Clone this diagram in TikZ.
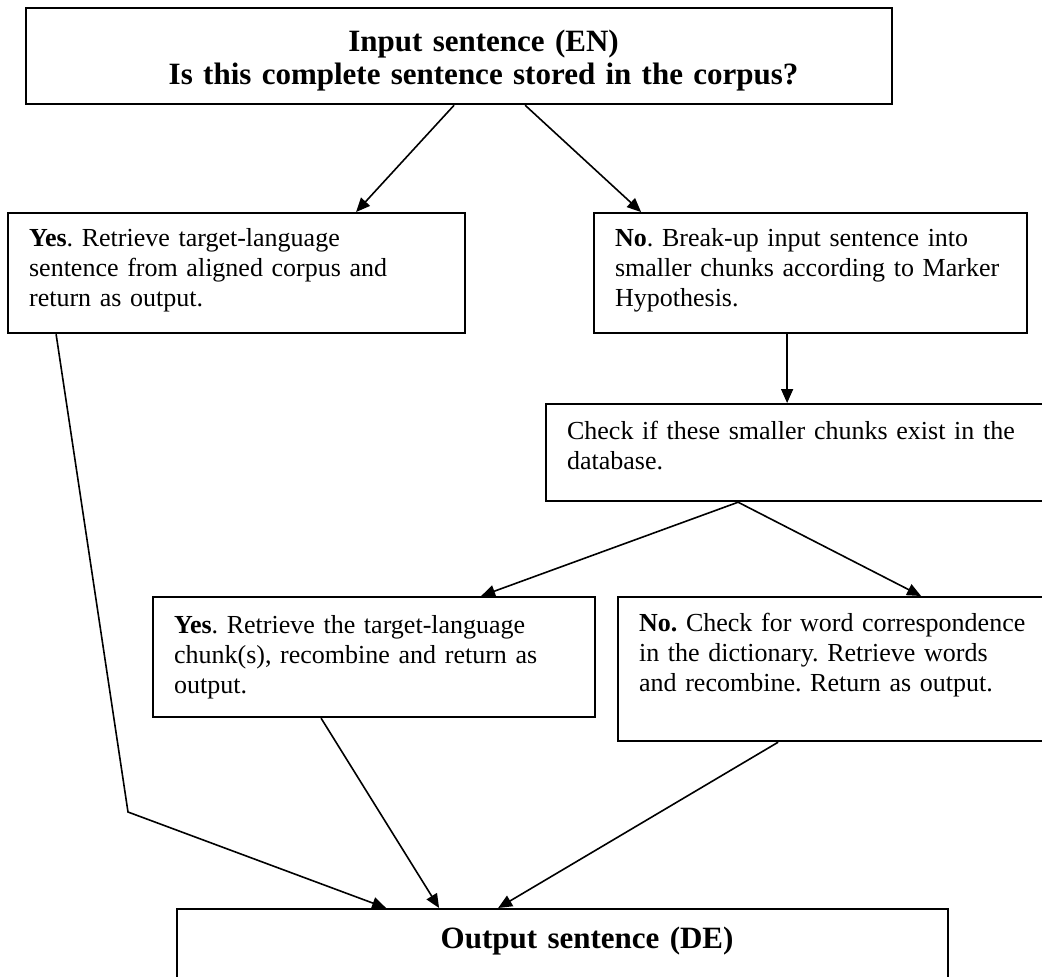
\documentclass[tikz,border=0pt]{standalone}
\usepackage{fontspec}
\setmainfont{Liberation Serif}
\usetikzlibrary{arrows.meta, positioning, calc}
\frenchspacing

\begin{document}
\begin{tikzpicture}[
    x=0.5pt, y=-0.5pt,
    box/.style={rectangle, draw, line width=1.1pt, anchor=north west, align=left, inner xsep=10.5pt, inner ysep=0pt, font=\fontsize{13}{15}\selectfont},
    headbox/.style={box, align=center, inner xsep=5pt, font=\fontsize{15.5}{16.5}\selectfont\bfseries},
    arrow/.style={-{Triangle[length=7pt, width=6pt]}, line width=0.8pt}
]
\path[use as bounding box, clip] (0,0) rectangle (1042,976);

% Question and first answers
\node[headbox, text width=423pt, text height=21.5pt, text depth=26.5pt] (input) at (25,7)
    {\hspace*{24.5pt}Input sentence (EN)\\ \hspace*{24.5pt}Is this complete sentence stored in the corpus?};
\node[box, text width=207.5pt, text height=16.5pt, text depth=43.5pt] (yes1) at (7,212)
    {\textbf{Yes}. Retrieve target-language\\ sentence from aligned corpus and\\ return as output.};
\node[box, text width=195.5pt, text height=16.5pt, text depth=43.5pt] (no1) at (593,212)
    {\textbf{No}. Break-up input sentence into\\ smaller chunks according to Marker\\ Hypothesis.};

% Chunk lookup
\node[box, text width=231.5pt, text height=17.5pt, text depth=31pt] (check) at (545,403)
    {Check if these smaller chunks exist in the\\ database.};
\node[box, text width=200pt, text height=18pt, text depth=42pt] (yes2) at (152,596)
    {\textbf{Yes}. Retrieve the target-language\\ chunk(s), recombine and return as\\ output.};
\node[box, text width=200.5pt, text height=17pt, text depth=55pt] (no2) at (617,596)
    {\textbf{No.} Check for word correspondence\\ in the dictionary. Retrieve words\\ and recombine. Return as output.};

% Result
\node[headbox, text width=375.5pt, text height=19.5pt, text depth=40pt] (output) at (176,908)
    {\hspace*{24.5pt}Output sentence (DE)};
\coordinate (bend) at (128,812);

% Arrows
\draw[arrow] ([shift={(-5,0)}]input.south) -- ([shift={(119.5,0)}]yes1.north);
\draw[arrow] ([shift={(66,0)}]input.south) -- ([shift={(-169.5,0)}]no1.north);
\draw[arrow] ([shift={(-23.5,0)}]no1.south) -- ([shift={(-11.5,0)}]check.north);
\draw[arrow] ([shift={(-60.5,0)}]check.south) -- ([shift={(107,0)}]yes2.north);
\draw[arrow] ([shift={(-60.5,0)}]check.south) -- ([shift={(81.5,0)}]no2.north);
\draw[arrow] ([shift={(-180.5,0)}]yes1.south) -- (bend) -- ([shift={(-176.5,0)}]output.north);
\draw[arrow] ([shift={(-53,0)}]yes2.south) -- ([shift={(-123.5,0)}]output.north);
\draw[arrow] ([shift={(-61.5,0)}]no2.south) -- ([shift={(-64.5,0)}]output.north);
\end{tikzpicture}
\end{document}
